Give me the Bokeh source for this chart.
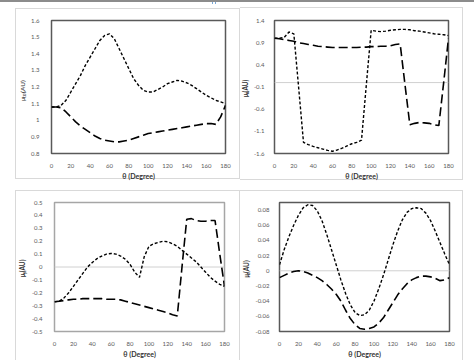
import math
from bokeh.plotting import figure
from bokeh.layouts import column, row
from bokeh.models import Range1d, FixedTicker, Span
from bokeh.core.properties import value
from bokeh.embed import file_html
from bokeh.resources import INLINE

# ---------------- data ----------------
theta = [0, 5, 10, 15, 20, 25, 30, 35, 40, 45, 50, 55, 60, 65, 70, 75, 80, 85, 90,
         95, 100, 105, 110, 115, 120, 125, 130, 135, 140, 145, 150, 155, 160, 165, 170, 175, 180]

tot_dot = [1.08, 1.08, 1.09, 1.12, 1.17, 1.22, 1.27, 1.33, 1.38, 1.43, 1.48, 1.51, 1.52,
           1.49, 1.43, 1.37, 1.31, 1.25, 1.21, 1.18, 1.17, 1.17, 1.185, 1.20, 1.22, 1.23,
           1.24, 1.235, 1.225, 1.21, 1.19, 1.17, 1.15, 1.135, 1.12, 1.11, 1.10]
tot_dash = [1.08, 1.08, 1.075, 1.05, 1.02, 0.99, 0.965, 0.945, 0.925, 0.905, 0.89, 0.88,
            0.875, 0.87, 0.87, 0.875, 0.88, 0.89, 0.90, 0.91, 0.92, 0.925, 0.93, 0.935,
            0.94, 0.945, 0.95, 0.955, 0.96, 0.965, 0.97, 0.975, 0.98, 0.98, 0.975, 1.02, 1.09]

mx_dot = [1.0, 1.0, 1.02, 1.14, 1.10, -0.12, -1.35, -1.40, -1.44, -1.47, -1.50, -1.53,
          -1.55, -1.52, -1.48, -1.43, -1.38, -1.35, -1.30, -0.05, 1.18, 1.16, 1.15, 1.16,
          1.18, 1.19, 1.20, 1.20, 1.19, 1.17, 1.16, 1.14, 1.12, 1.10, 1.09, 1.08, 1.06]
mx_dash = [1.0, 0.99, 0.97, 0.95, 0.93, 0.90, 0.88, 0.86, 0.84, 0.82, 0.81, 0.80, 0.79,
           0.79, 0.79, 0.79, 0.79, 0.79, 0.80, 0.80, 0.81, 0.81, 0.82, 0.82, 0.83, 0.86,
           0.87, -0.05, -0.95, -0.92, -0.90, -0.91, -0.92, -0.95, -0.97, 0.0, 1.0]

my_dot = [-0.27, -0.265, -0.24, -0.20, -0.15, -0.10, -0.05, 0.0, 0.035, 0.065, 0.085,
          0.10, 0.105, 0.10, 0.085, 0.06, 0.02, -0.04, -0.08, 0.08, 0.16, 0.18, 0.19,
          0.20, 0.195, 0.18, 0.16, 0.13, 0.10, 0.07, 0.04, 0.0, -0.04, -0.08, -0.11,
          -0.135, -0.15]
my_dash = [-0.27, -0.265, -0.26, -0.255, -0.25, -0.25, -0.245, -0.245, -0.245, -0.245,
           -0.245, -0.25, -0.25, -0.25, -0.255, -0.265, -0.275, -0.285, -0.295, -0.305,
           -0.315, -0.325, -0.335, -0.345, -0.355, -0.37, -0.38, 0.0, 0.37, 0.375, 0.36,
           0.355, 0.355, 0.36, 0.36, 0.10, -0.15]

mz_dot = [0.008, 0.028, 0.045, 0.06, 0.073, 0.083, 0.087, 0.086, 0.079, 0.066, 0.048,
          0.028, 0.008, -0.012, -0.03, -0.045, -0.055, -0.059, -0.058, -0.052, -0.04,
          -0.024, -0.006, 0.014, 0.034, 0.052, 0.067, 0.077, 0.082, 0.083, 0.082, 0.076,
          0.066, 0.052, 0.037, 0.022, 0.008]
mz_dash = [-0.009, -0.006, -0.003, -0.001, 0.0, -0.001, -0.003, -0.006, -0.009, -0.013,
           -0.018, -0.024, -0.031, -0.040, -0.052, -0.063, -0.071, -0.076, -0.077, -0.076,
           -0.074, -0.069, -0.062, -0.052, -0.042, -0.032, -0.024, -0.017, -0.012, -0.009,
           -0.007, -0.007, -0.008, -0.010, -0.013, -0.012, -0.009]

x_ticks = [0, 20, 40, 60, 80, 100, 120, 140, 160, 180]
x_tick_labels = ["0", "20", "40", "60", "80", "100", "120", "140", "160", "180"]

tot_ticks = [0.8, 0.9, 1.0, 1.1, 1.2, 1.3, 1.4, 1.5, 1.6]
tot_tick_labels = ["0.8", "0.9", "1", "1.1", "1.2", "1.3", "1.4", "1.5", "1.6"]
mx_ticks = [-1.6, -1.1, -0.6, -0.1, 0.4, 0.9, 1.4]
mx_tick_labels = ["-1.6", "-1.1", "-0.6", "-0.1", "0.4", "0.9", "1.4"]
my_ticks = [-0.5, -0.4, -0.3, -0.2, -0.1, 0.0, 0.1, 0.2, 0.3, 0.4, 0.5]
my_tick_labels = ["-0.5", "-0.4", "-0.3", "-0.2", "-0.1", "0", "0.1", "0.2", "0.3", "0.4", "0.5"]
mz_ticks = [-0.08, -0.06, -0.04, -0.02, 0.0, 0.02, 0.04, 0.06, 0.08]
mz_tick_labels = ["-0.08", "-0.06", "-0.04", "-0.02", "0", "0.02", "0.04", "0.06", "0.08"]

x_title = "θ (Degree)"
y_title_main = "μ"
y_title_unit = " (AU)"
y_title_subs = ["tot", "x", "y", "z"]

FONT = "Lato"
BORDER = "#d9d9d9"
TOPLINE = "#8c8c8c"
ICON = "#7aa7d6"
TITLE_COLOR = "#333333"


def css_lines(lines):
    """lines: list of (x, y, w, h, color) in element pixels -> CSS background."""
    imgs = ", ".join(f"linear-gradient({c}, {c})" for *_, c in lines)
    pos = ", ".join(f"{x}px {y}px" for x, y, w, h, c in lines)
    size = ", ".join(f"{w}px {h}px" for x, y, w, h, c in lines)
    return {"background-image": imgs, "background-position": pos,
            "background-size": size, "background-repeat": "no-repeat"}


def title_fig(w, h, cx, start, sub, bold, lines):
    """Narrow figure holding the rotated y-axis title, in pixel coordinates."""
    t = figure(width=w, height=h, output_backend="svg", toolbar_location=None,
               x_range=Range1d(0, w), y_range=Range1d(0, h),
               x_axis_type=None, y_axis_type=None, min_border=0)
    t.styles = css_lines(lines)
    t.border_fill_color = None
    t.background_fill_color = None
    t.outline_line_color = None
    t.xgrid.visible = False
    t.ygrid.visible = False
    style = "bold" if bold else "normal"
    main_len = 4.0
    sub_len = 2.2 * len(sub) + 0.4
    pieces = [(y_title_main, 6.5, 0, 0), (sub, 4.8, 1.7, main_len),
              (y_title_unit, 6.5, 0, main_len + sub_len)]
    for txt, size, dx, dy in pieces:
        t.text(x=[cx + dx], y=[start + dy], text=[txt], angle=math.pi / 2,
               text_align="left", text_baseline="middle",
               text_font=value(FONT), text_font_size=f"{size}px",
               text_font_style=style, text_color=TITLE_COLOR)
    return t


def make_panel(w, h, bl, br, bt, bb, yr, yticks, ylabels, dot, dash, outline,
               zero, standoff, lines):
    p = figure(width=w, height=h, output_backend="svg", toolbar_location=None,
               x_range=Range1d(0, 180), y_range=Range1d(*yr),
               min_border_left=bl, min_border_right=br,
               min_border_top=bt, min_border_bottom=bb)
    p.styles = css_lines(lines)
    p.border_fill_color = None
    p.background_fill_color = "white"
    p.outline_line_color = outline
    p.outline_line_width = 1.5
    p.xgrid.visible = False
    p.ygrid.visible = False

    for ax in (p.xaxis[0], p.yaxis[0]):
        ax.axis_line_color = None
        ax.major_tick_line_color = None
        ax.minor_tick_line_color = None
        ax.major_label_text_font = FONT
        ax.major_label_text_font_size = "6px"
        ax.major_label_text_color = "#595959"

    p.xaxis[0].ticker = FixedTicker(ticks=x_ticks)
    p.xaxis[0].major_label_overrides = dict(zip(x_ticks, x_tick_labels))
    p.xaxis[0].major_label_standoff = 4
    p.xaxis[0].axis_label = x_title
    p.xaxis[0].axis_label_text_font = FONT
    p.xaxis[0].axis_label_text_font_size = "7px"
    p.xaxis[0].axis_label_text_font_style = "bold"
    p.xaxis[0].axis_label_text_color = TITLE_COLOR
    p.xaxis[0].axis_label_standoff = 1

    p.yaxis[0].ticker = FixedTicker(ticks=yticks)
    p.yaxis[0].major_label_overrides = dict(zip(yticks, ylabels))
    p.yaxis[0].major_label_standoff = standoff

    if zero:
        p.add_layout(Span(location=0, dimension="width", line_color="#d0d0d0",
                          line_width=1, level="underlay"))

    p.line(theta, dot, line_color="black", line_width=1.4, line_dash="3 2")
    p.line(theta, dash, line_color="black", line_width=1.6, line_dash="9 4")
    return p


T, B = TOPLINE, BORDER
# top row (height 182)
t1 = title_fig(28, 182, 22, 72, y_title_subs[0], False,
               [(0, 0, 28, 2, T), (15, 8, 13, 1, B), (15, 178, 13, 1, B), (15, 8, 1, 171, B)])
p1 = make_panel(212, 182, 16, 15, 20, 28, (0.8, 1.6), tot_ticks, tot_tick_labels,
                tot_dot, tot_dash, "#595959", False, 6,
                [(0, 0, 212, 2, T), (184, 0, 1, 4, ICON), (187, 0, 1, 4, ICON),
                 (0, 8, 212, 1, B), (0, 178, 212, 1, B), (211, 8, 1, 171, B)])
t2 = title_fig(10, 182, 4.5, 77, y_title_subs[1], True,
               [(0, 0, 10, 2, T), (0, 7, 10, 1, B), (0, 179, 10, 1, B)])
p2 = make_panel(224, 182, 21, 26, 20, 28, (-1.6, 1.4), mx_ticks, mx_tick_labels,
                mx_dot, mx_dash, "#595959", True, 4,
                [(0, 0, 224, 2, T), (0, 7, 213, 1, B), (0, 179, 213, 1, B), (212, 7, 1, 173, B)])
# bottom row (height 178)
t3 = title_fig(28, 178, 22, 75, y_title_subs[2], True,
               [(15, 8, 13, 1, B), (15, 8, 1, 170, B)])
p3 = make_panel(212, 178, 17, 16, 20, 27, (-0.5, 0.5), my_ticks, my_tick_labels,
                my_dot, my_dash, "#a6a6a6", True, 6,
                [(0, 8, 212, 1, B), (211, 8, 1, 170, B)])
t4 = title_fig(12, 178, 6, 74, y_title_subs[3], True,
               [(0, 8, 12, 1, B)])
p4 = make_panel(222, 178, 21, 25, 20, 24, (-0.08, 0.09), mz_ticks, mz_tick_labels,
                mz_dot, mz_dash, "#595959", True, 4,
                [(0, 8, 211, 1, B), (210, 8, 1, 170, B)])

layout = column(row(t1, p1, t2, p2), row(t3, p3, t4, p4))

open("out.html", "w").write(file_html(layout, INLINE))
